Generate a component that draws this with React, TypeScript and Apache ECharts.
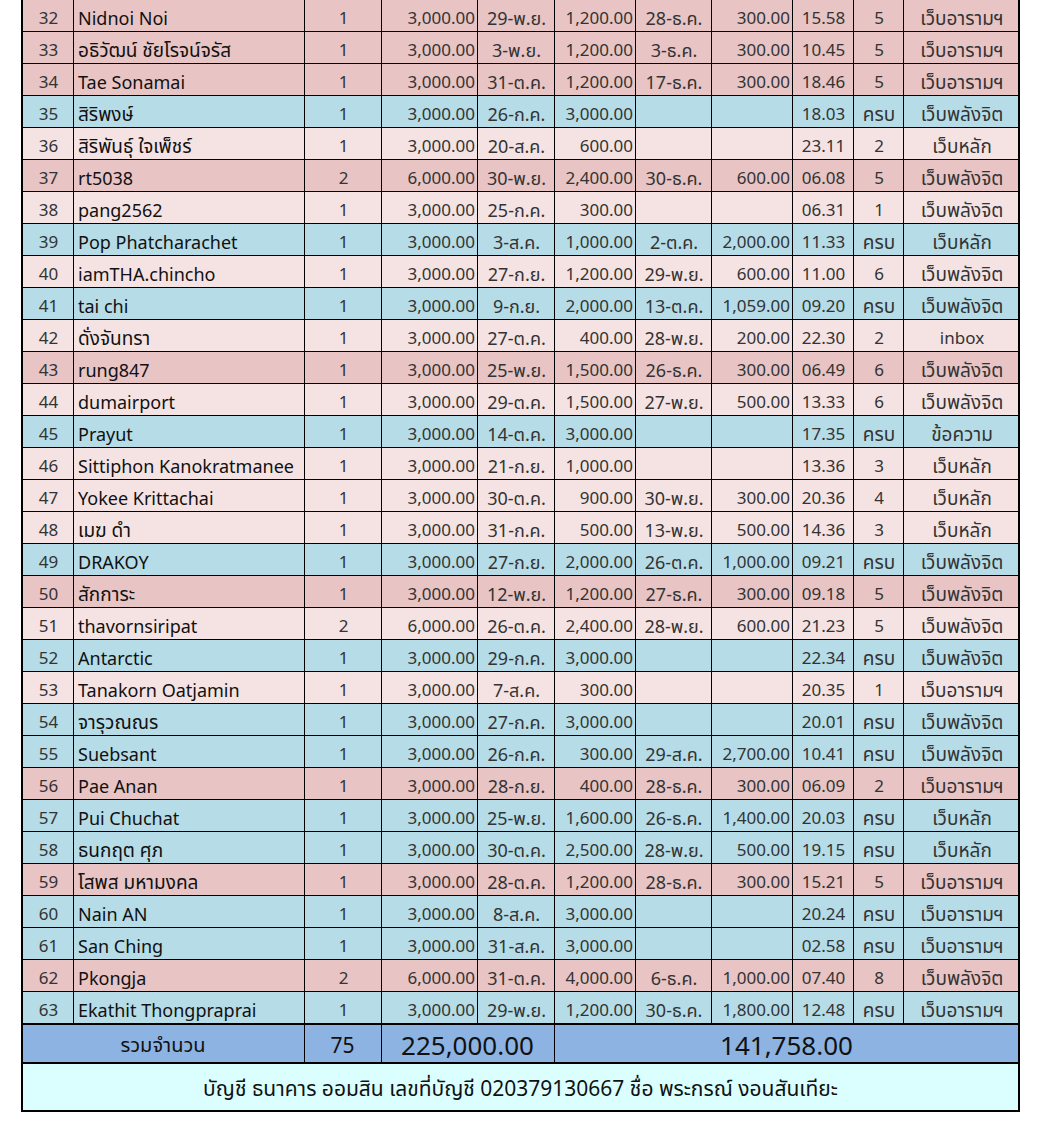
import React, { useEffect, useRef } from "react";
import * as echarts from "echarts";

// ---------- data ----------
const rowNos = [32,33,34,35,36,37,38,39,40,41,42,43,44,45,46,47,48,49,50,51,52,53,54,55,56,57,58,59,60,61,62,63];
const names = [
  "Nidnoi Noi","อธิวัฒน์ ชัยโรจน์จรัส","Tae Sonamai","สิริพงษ์","สิริพันธุ์ ใจเพ็ชร์","rt5038","pang2562",
  "Pop Phatcharachet","iamTHA.chincho","tai chi","ดั่งจันทรา","rung847","dumairport","Prayut",
  "Sittiphon Kanokratmanee","Yokee Krittachai","เมฆ ดำ","DRAKOY","สักการะ","thavornsiripat","Antarctic",
  "Tanakorn Oatjamin","จารุวณณร","Suebsant","Pae Anan","Pui Chuchat","ธนกฤต ศุภ","โสพส มหามงคล",
  "Nain AN","San Ching","Pkongja","Ekathit Thongpraprai"
];
const quantities = [1,1,1,1,1,2,1,1,1,1,1,1,1,1,1,1,1,1,1,2,1,1,1,1,1,1,1,1,1,1,2,1];
const amounts = [3000,3000,3000,3000,3000,6000,3000,3000,3000,3000,3000,3000,3000,3000,3000,3000,3000,3000,3000,6000,3000,3000,3000,3000,3000,3000,3000,3000,3000,3000,6000,3000];
const firstDates = [
  "29-พ.ย.","3-พ.ย.","31-ต.ค.","26-ก.ค.","20-ส.ค.","30-พ.ย.","25-ก.ค.","3-ส.ค.","27-ก.ย.","9-ก.ย.",
  "27-ต.ค.","25-พ.ย.","29-ต.ค.","14-ต.ค.","21-ก.ย.","30-ต.ค.","31-ก.ค.","27-ก.ย.","12-พ.ย.","26-ต.ค.",
  "29-ก.ค.","7-ส.ค.","27-ก.ค.","26-ก.ค.","28-ก.ย.","25-พ.ย.","30-ต.ค.","28-ต.ค.","8-ส.ค.","31-ส.ค.",
  "31-ต.ค.","29-พ.ย."
];
const firstPaid = [1200,1200,1200,3000,600,2400,300,1000,1200,2000,400,1500,1500,3000,1000,900,500,2000,1200,2400,3000,300,3000,300,400,1600,2500,1200,3000,3000,4000,1200];
const secondDates = [
  "28-ธ.ค.","3-ธ.ค.","17-ธ.ค.","","","30-ธ.ค.","","2-ต.ค.","29-พ.ย.","13-ต.ค.",
  "28-พ.ย.","26-ธ.ค.","27-พ.ย.","","","30-พ.ย.","13-พ.ย.","26-ต.ค.","27-ธ.ค.","28-พ.ย.",
  "","","","29-ส.ค.","28-ธ.ค.","26-ธ.ค.","28-พ.ย.","28-ธ.ค.","","",
  "6-ธ.ค.","30-ธ.ค."
];
const secondPaid: (number | null)[] = [300,300,300,null,null,600,null,2000,600,1059,200,300,500,null,null,300,500,1000,300,600,null,null,null,2700,300,1400,500,300,null,null,1000,1800];
const times = [
  "15.58","10.45","18.46","18.03","23.11","06.08","06.31","11.33","11.00","09.20","22.30","06.49","13.33","17.35",
  "13.36","20.36","14.36","09.21","09.18","21.23","22.34","20.35","20.01","10.41","06.09","20.03","19.15","15.21",
  "20.24","02.58","07.40","12.48"
];
const statuses = ["5","5","5","ครบ","2","5","1","ครบ","6","ครบ","2","6","6","ครบ","3","4","3","ครบ","5","5","ครบ","1","ครบ","ครบ","2","ครบ","ครบ","5","ครบ","ครบ","8","ครบ"];
const channels = [
  "เว็บอารามฯ","เว็บอารามฯ","เว็บอารามฯ","เว็บพลังจิต","เว็บหลัก","เว็บพลังจิต","เว็บพลังจิต","เว็บหลัก","เว็บพลังจิต","เว็บพลังจิต",
  "inbox","เว็บพลังจิต","เว็บพลังจิต","ข้อความ","เว็บหลัก","เว็บหลัก","เว็บหลัก","เว็บพลังจิต","เว็บพลังจิต","เว็บพลังจิต",
  "เว็บพลังจิต","เว็บอารามฯ","เว็บพลังจิต","เว็บพลังจิต","เว็บอารามฯ","เว็บหลัก","เว็บหลัก","เว็บอารามฯ","เว็บอารามฯ","เว็บอารามฯ",
  "เว็บพลังจิต","เว็บอารามฯ"
];
// d = darker pink, l = light pink, b = blue
const rowKinds = ["d","d","d","b","l","d","l","b","l","b","l","d","l","b","l","l","l","b","d","l","b","l","b","b","d","b","b","d","b","b","d","b"];
const totalLabel = "รวมจำนวน";
const totalQty = 75;
const totalAmount = 225000;
const totalPaid = 141758;
const footerText = "บัญชี ธนาคาร ออมสิน เลขที่บัญชี 020379130667 ชื่อ พระกรณ์ งอนสันเทียะ";

// ---------- layout / style ----------
const W = 1042;
const H = 1133;
const colEdges = [22, 73, 304, 381, 477, 554, 635, 711, 792, 853, 903, 1019];
const colAlign = ["center","left","center","right","center","right","center","right","center","center","center"];
const ROW_H = 32;
const TOTAL_TOP = 1024;
const TOTAL_BOTTOM = 1063;
const FOOTER_BOTTOM = 1111;
const FONT = "Tahoma, 'Noto Sans', 'Noto Sans Thai', 'DejaVu Sans', sans-serif";
const kindColor: Record<string, string> = { d: "#E8C4C4", l: "#F5E3E3", b: "#B5DCE7" };
const TOTAL_BG = "#8DB3E2";
const FOOTER_BG = "#DBFFFF";
const THAI_RE = /[\u0E00-\u0E7F]/;

const fmt = (v: number | null) =>
  v == null ? "" : v.toLocaleString("en-US", { minimumFractionDigits: 2, maximumFractionDigits: 2 });

function cellTexts(i: number): string[] {
  return [
    String(rowNos[i]), names[i], String(quantities[i]), fmt(amounts[i]), firstDates[i], fmt(firstPaid[i]),
    secondDates[i], fmt(secondPaid[i]), times[i], statuses[i], channels[i]
  ];
}

export default function App() {
  const ref = useRef<HTMLDivElement>(null);
  useEffect(() => {
    document.body.style.margin = "0";
    if (!ref.current) return;
    const chart = echarts.init(ref.current, null, { renderer: "svg" });

    const renderRow = (params: any, api: any) => {
      const i = api.value(0);
      const y0 = i * ROW_H;
      const y1 = y0 + ROW_H;
      const top = api.coord([0, y0])[1];
      const bottom = api.coord([0, y1])[1];
      const xs = colEdges.map((e) => api.coord([e, 0])[0]);
      const fill = kindColor[rowKinds[i]];
      const children: any[] = [];
      children.push({ type: "rect", shape: { x: xs[0], y: top, width: xs[xs.length - 1] - xs[0], height: bottom - top }, style: { fill } });
      for (let c = 1; c < xs.length - 1; c++) {
        children.push({ type: "line", shape: { x1: xs[c] + 0.5, y1: top, x2: xs[c] + 0.5, y2: bottom }, style: { stroke: "#000", lineWidth: 1 } });
      }
      children.push({ type: "line", shape: { x1: xs[0], y1: bottom - 0.5, x2: xs[xs.length - 1], y2: bottom - 0.5 }, style: { stroke: "#000", lineWidth: 1 } });
      const texts = cellTexts(i);
      const midY = (top + bottom) / 2 + 1.5;
      texts.forEach((t, c) => {
        if (!t) return;
        const a = colAlign[c];
        const x = a === "left" ? xs[c] + 5 : a === "right" ? xs[c + 1] - 2 : (xs[c] + xs[c + 1]) / 2 + 1;
        const thai = THAI_RE.test(t);
        const size = c === 1 ? (thai ? 19 : 18) : thai ? (/\d/.test(t) ? 18 : 19) : 17;
        children.push({
          type: "text",
          style: {
            text: t, x, y: midY, align: a, verticalAlign: "middle",
            fontSize: size, fontFamily: FONT, fill: c === 1 ? "#111" : "#333"
          }
        });
      });
      return { type: "group", children };
    };

    const renderSummary = (params: any, api: any) => {
      const x = (e: number) => api.coord([e, 0])[0];
      const y = (v: number) => api.coord([0, v])[1];
      const L = x(colEdges[0]);
      const R = x(colEdges[colEdges.length - 1]);
      const tT = y(TOTAL_TOP), tB = y(TOTAL_BOTTOM), fB = y(FOOTER_BOTTOM);
      const tMid = (tT + tB) / 2 + 1.5;
      const children: any[] = [
        { type: "rect", shape: { x: L, y: tT, width: R - L, height: tB - tT }, style: { fill: TOTAL_BG } },
        { type: "rect", shape: { x: L, y: tB, width: R - L, height: fB - tB }, style: { fill: FOOTER_BG } },
      ];
      [colEdges[2], colEdges[3], colEdges[5]].forEach((e) => {
        children.push({ type: "line", shape: { x1: x(e) + 0.5, y1: tT, x2: x(e) + 0.5, y2: tB }, style: { stroke: "#000", lineWidth: 1 } });
      });
      [tT, tB, fB].forEach((yy) => {
        children.push({ type: "line", shape: { x1: L - 1, y1: yy, x2: R + 1, y2: yy }, style: { stroke: "#000", lineWidth: 2 } });
      });
      children.push({ type: "line", shape: { x1: L, y1: y(0), x2: L, y2: fB + 1 }, style: { stroke: "#000", lineWidth: 2 } });
      children.push({ type: "line", shape: { x1: R, y1: y(0), x2: R, y2: fB + 1 }, style: { stroke: "#000", lineWidth: 2 } });
      const mk = (text: string, cx: number, cy: number, size: number) => ({
        type: "text",
        style: { text, x: cx, y: cy, align: "center", verticalAlign: "middle", fontSize: size, fontFamily: FONT, fill: "#111" }
      });
      children.push(mk(totalLabel, (x(colEdges[0]) + x(colEdges[2])) / 2, tMid - 1, 20));
      children.push(mk(String(totalQty), (x(colEdges[2]) + x(colEdges[3])) / 2, tMid, 21));
      children.push(mk(fmt(totalAmount), (x(colEdges[3]) + x(colEdges[5])) / 2, tMid, 26));
      children.push(mk(fmt(totalPaid), (x(colEdges[5]) + R) / 2, tMid, 26));
      children.push(mk(footerText, (L + R) / 2, (tB + fB) / 2 + 1, 21));
      return { type: "group", children };
    };

    chart.setOption({
      animation: false,
      grid: { left: 0, right: 0, top: 0, bottom: 0 },
      xAxis: { type: "value", min: 0, max: W, show: false },
      yAxis: { type: "value", min: 0, max: H, inverse: true, show: false },
      series: [
        {
          type: "custom",
          z: 2,
          renderItem: renderRow,
          data: rowNos.map((_, i) => [i]),
          silent: true,
        },
        {
          type: "custom",
          z: 3,
          renderItem: renderSummary,
          data: [[0]],
          silent: true,
        },
      ],
    });
    return () => chart.dispose();
  }, []);
  return <div ref={ref} style={{ width: W, height: H }} />;
}
